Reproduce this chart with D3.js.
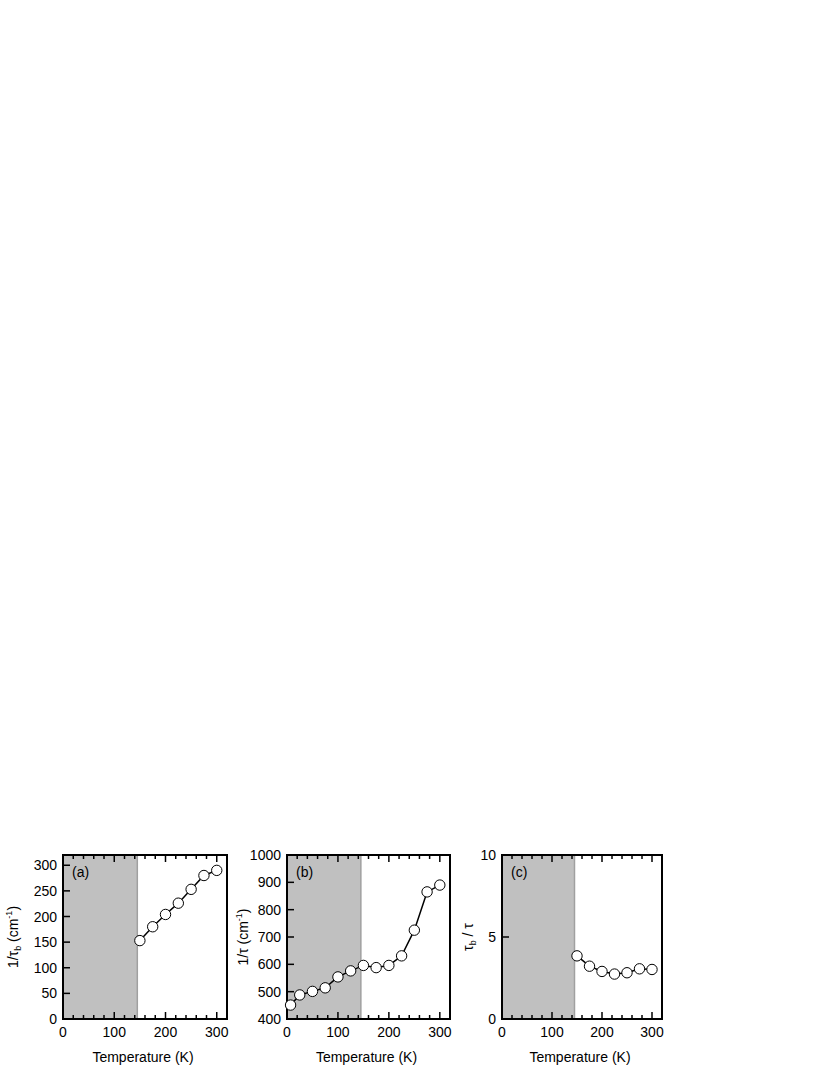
<!DOCTYPE html>
<html>
<head>
<meta charset="utf-8">
<script src="https://cdn.jsdelivr.net/npm/d3@7"></script>
<style>
  body { margin: 0; background: #fff; }
  svg { display: block; font-family: "Liberation Sans", Arial, sans-serif; }
</style>
</head>
<body>
<svg id="chart" width="830" height="1075"></svg>
<script>
// panel (a): 1/tau_b
const tempA = [150, 175, 200, 225, 250, 275, 300];
const valA = [153, 180, 204, 226, 253, 280, 290];

// panel (b): 1/tau
const tempB = [7, 25, 50, 75, 100, 125, 150, 175, 200, 225, 250, 275, 300];
const valB = [451, 488, 501, 514, 554, 576, 596, 588, 596, 631, 725, 865, 890];

// panel (c): tau_b / tau
const tempC = [150, 175, 200, 225, 250, 275, 300];
const valC = [3.85, 3.22, 2.9, 2.74, 2.82, 3.06, 3.02];

const xTicks = [0, 100, 200, 300];
const yTicksA = [0, 50, 100, 150, 200, 250, 300];
const yTicksB = [400, 500, 600, 700, 800, 900, 1000];
const yTicksC = [0, 5, 10];
const shadeTo = 145;

const svg = d3.select("#chart");

const panels = [
  { left: 63, right: 227, x: tempA, y: valA, yDom: [0, 320], yTicks: yTicksA, tag: "(a)", lab: "a", labX: 13 },
  { left: 287, right: 450, x: tempB, y: valB, yDom: [400, 1000], yTicks: yTicksB, tag: "(b)", lab: "b", labX: 243 },
  { left: 502, right: 662, x: tempC, y: valC, yDom: [0, 10], yTicks: yTicksC, tag: "(c)", lab: "c", labX: 468 }
];
const plotTop = 855, plotBottom = 1019;

panels.forEach(p => {
  const x = d3.scaleLinear().domain([0, 320]).range([p.left, p.right]);
  const y = d3.scaleLinear().domain(p.yDom).range([plotBottom, plotTop]);
  const g = svg.append("g");

  // shaded region
  g.append("rect")
    .attr("x", x(0)).attr("y", plotTop)
    .attr("width", x(shadeTo) - x(0)).attr("height", plotBottom - plotTop)
    .attr("fill", "#c0c0c0");
  g.append("line")
    .attr("x1", x(shadeTo)).attr("x2", x(shadeTo))
    .attr("y1", plotTop).attr("y2", plotBottom)
    .attr("stroke", "#a0a0a0").attr("stroke-width", 1.5);

  // x ticks (bottom & top, inward)
  const minor = d3.range(20, 320, 20).filter(v => v % 100 !== 0);
  [plotBottom, plotTop].forEach(yy => {
    const dir = yy === plotBottom ? -1 : 1;
    g.selectAll(null).data(xTicks).enter().append("line")
      .attr("x1", d => x(d)).attr("x2", d => x(d))
      .attr("y1", yy).attr("y2", yy + dir * 7)
      .attr("stroke", "#000").attr("stroke-width", 1.5);
    g.selectAll(null).data(minor).enter().append("line")
      .attr("x1", d => x(d)).attr("x2", d => x(d))
      .attr("y1", yy).attr("y2", yy + dir * 4)
      .attr("stroke", "#000").attr("stroke-width", 1.5);
  });

  // y ticks (left, inward)
  g.selectAll(null).data(p.yTicks).enter().append("line")
    .attr("x1", p.left).attr("x2", p.left + 7)
    .attr("y1", d => y(d)).attr("y2", d => y(d))
    .attr("stroke", "#000").attr("stroke-width", 1.5);

  // tick labels
  g.selectAll(null).data(xTicks).enter().append("text")
    .attr("x", d => x(d)).attr("y", 1037)
    .attr("text-anchor", "middle").attr("font-size", 14)
    .text(d => d);
  g.selectAll(null).data(p.yTicks).enter().append("text")
    .attr("x", p.left - 6).attr("y", d => y(d) + 5)
    .attr("text-anchor", "end").attr("font-size", 14)
    .text(d => d);

  // frame
  g.append("rect")
    .attr("x", p.left).attr("y", plotTop)
    .attr("width", p.right - p.left).attr("height", plotBottom - plotTop)
    .attr("fill", "none").attr("stroke", "#000").attr("stroke-width", 2);

  // data
  const pts = p.x.map((t, i) => [t, p.y[i]]);
  g.append("path")
    .datum(pts)
    .attr("d", d3.line().x(d => x(d[0])).y(d => y(d[1])))
    .attr("fill", "none").attr("stroke", "#000").attr("stroke-width", 1.5);
  g.selectAll(null).data(pts).enter().append("circle")
    .attr("cx", d => x(d[0])).attr("cy", d => y(d[1]))
    .attr("r", 5.2)
    .attr("fill", "#fff").attr("stroke", "#000").attr("stroke-width", 1);

  // panel tag
  g.append("text")
    .attr("x", p.left + 9).attr("y", 877)
    .attr("font-size", 14).text(p.tag);

  // x label
  g.append("text")
    .attr("x", (p.left + p.right) / 2 - 2).attr("y", 1062)
    .attr("text-anchor", "middle").attr("font-size", 14)
    .text("Temperature (K)");

  // y label
  const yl = g.append("text")
    .attr("transform", `translate(${p.labX},${(plotTop + plotBottom) / 2}) rotate(-90)`)
    .attr("text-anchor", "middle").attr("font-size", 14)
    .attr("dy", "0.35em");
  if (p.lab === "a") {
    yl.append("tspan").text("1/τ");
    yl.append("tspan").attr("font-size", 9).attr("dy", 3).text("b");
    yl.append("tspan").attr("dy", -3).text(" (cm");
    yl.append("tspan").attr("font-size", 9).attr("dy", -6).text("-1");
    yl.append("tspan").attr("dy", 6).text(")");
  } else if (p.lab === "b") {
    yl.append("tspan").text("1/τ (cm");
    yl.append("tspan").attr("font-size", 9).attr("dy", -6).text("-1");
    yl.append("tspan").attr("dy", 6).text(")");
  } else {
    yl.append("tspan").text("τ");
    yl.append("tspan").attr("font-size", 9).attr("dy", 3).text("b");
    yl.append("tspan").attr("dy", -3).text(" / τ");
  }
});
</script>
</body>
</html>
